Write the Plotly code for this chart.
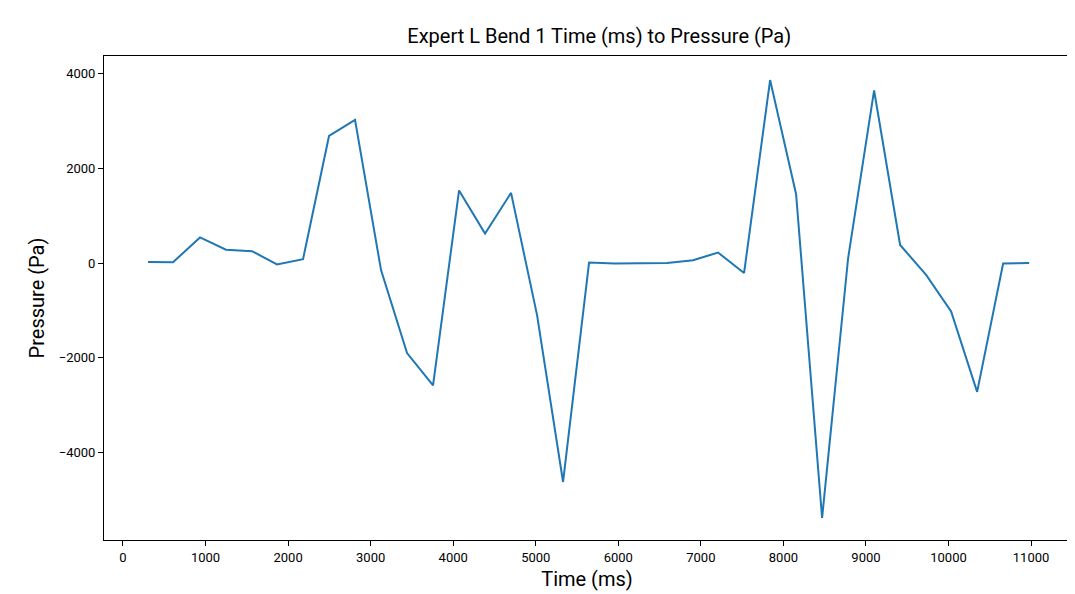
import plotly.graph_objects as go

time_ms = [303, 606, 933, 1248, 1563, 1866, 2181, 2496, 2811, 3126, 3441, 3756, 4071, 4386,
           4701, 5016, 5331, 5646, 5961, 6276, 6591, 6906, 7209, 7524, 7839, 8154, 8469,
           8784, 9099, 9414, 9729, 10032, 10347, 10662, 10977]
pressure = [20, 15, 540, 280, 250, -30, 80, 2680, 3020, -150, -1900, -2580, 1530, 620,
            1480, -1100, -4620, 10, -10, 0, 0, 60, 220, -210, 3860, 1450, -5380, 100,
            3640, 380, -250, -1020, -2720, -10, 0]
x_ticks = list(range(0, 11001, 1000))
y_ticks = [-4000, -2000, 0, 2000, 4000]

fig = go.Figure(go.Scatter(x=time_ms, y=pressure, mode="lines",
                           line=dict(color="#1f77b4", width=2)))

axis_style = dict(showline=True, linecolor="black", linewidth=1, mirror=True,
                  showgrid=False, zeroline=False, ticks="outside", ticklen=5,
                  tickcolor="black", tickfont=dict(size=13, color="black"),
                  automargin=False)

fig.update_layout(
    width=1075, height=594,
    paper_bgcolor="white", plot_bgcolor="white",
    font=dict(family="Roboto", color="black"),
    title=dict(text="Expert L Bend 1 Time (ms) to Pressure (Pa)", x=0.55, xanchor="center",
               y=0.965, font=dict(size=20)),
    margin=dict(l=96, r=13, t=48, b=62),
    showlegend=False,
    xaxis=dict(title=dict(text="Time (ms)", font=dict(size=20), standoff=8),
               range=[-230, 11472], tickvals=x_ticks,
               ticktext=[str(v) for v in x_ticks], **axis_style),
    yaxis=dict(title=dict(text="Pressure (Pa)", font=dict(size=20), standoff=8),
               range=[-5844, 4367], tickvals=y_ticks,
               ticktext=[str(v).replace("-", "\u2212") for v in y_ticks], **axis_style),
)

fig.write_html("out.html")
